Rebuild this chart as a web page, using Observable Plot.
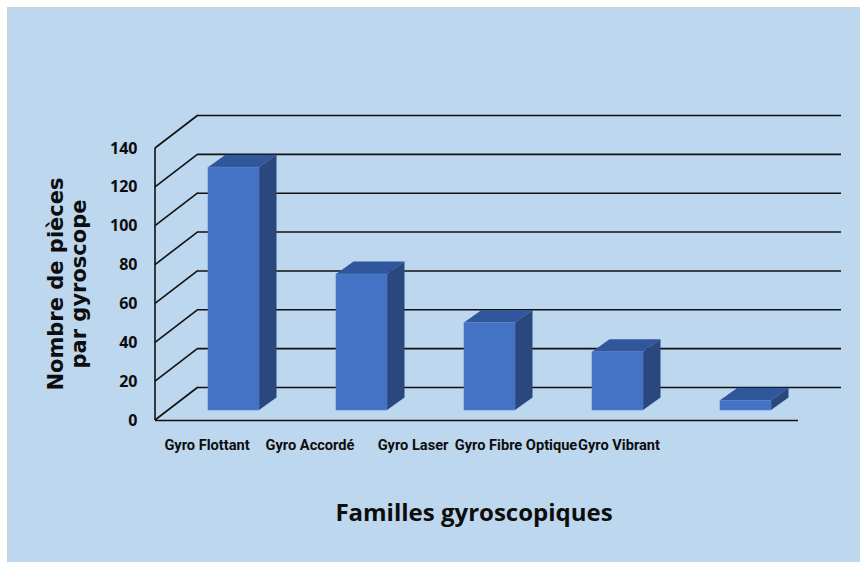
<!DOCTYPE html>
<html><head><meta charset="utf-8">
<script src="https://cdn.jsdelivr.net/npm/d3@7"></script>
<script src="https://cdn.jsdelivr.net/npm/@observablehq/plot@0.6"></script>
<style>
body{margin:0;background:#fff;width:860px;height:562px;overflow:hidden;position:relative;}
#bg{position:absolute;left:7px;top:7px;right:0;bottom:0;background:#BDD7EE;border-left:1px solid #d2d2d2;border-top:1px solid #d2d2d2;}
#chart,#xlabels{position:absolute;left:0;}
#chart{top:0;}
#xlabels{top:430px;}
#xtitle{position:absolute;left:274px;width:400px;top:497px;text-align:center;font:bold 24px/30px "Open Sans",sans-serif;color:#0d0d0d;}
#ytitle{position:absolute;left:-82px;top:261px;width:300px;height:46px;text-align:center;font:bold 21px/23px "DejaVu Sans",sans-serif;color:#0d0d0d;transform:rotate(-90deg);}
svg{overflow:visible;}
</style></head>
<body>
<div id="bg"></div>
<div id="chart"></div>
<div id="xlabels"></div>
<div id="xtitle">Familles gyroscopiques</div>
<div id="ytitle">Nombre de pièces<br>par gyroscope</div>
<script>
const categories = ["Gyro Flottant", "Gyro Accordé", "Gyro Laser", "Gyro Fibre Optique", "Gyro Vibrant"];
const values = [125, 70, 45, 30, 5];
const yTicks = [0, 20, 40, 60, 80, 100, 120, 140];

const data = categories.map((c, i) => ({cat: c, value: values[i]}));

const DEPTH = {dx: 43, dy: -33};      // full floor depth (front wall -> back wall)
const BAR_OFF = {dx: 13, dy: -10};    // bar front face position in depth
const BAR_D = {dx: 17.5, dy: -12.5};  // bar thickness in depth

function walls(index, scales, values, dims) {
  const g = d3.create("svg:g").attr("stroke", "#111").attr("stroke-width", 1.6).attr("fill", "none");
  const x0 = dims.marginLeft;
  for (const t of yTicks) {
    const y = scales.y(t);
    g.append("line").attr("x1", x0).attr("y1", y).attr("x2", x0 + DEPTH.dx).attr("y2", y + DEPTH.dy);
  }
  g.append("line").attr("x1", x0).attr("x2", x0)
    .attr("y1", scales.y(0)).attr("y2", scales.y(d3.max(yTicks)));
  return g.node();
}

function barFaces(index, scales, values, dims) {
  const g = d3.create("svg:g");
  const bw = scales.x.bandwidth();
  for (const d of data) {
    const xl = scales.x(d.cat) + BAR_OFF.dx, xr = xl + bw;
    const yt = scales.y(d.value) + BAR_OFF.dy, yb = scales.y(0) + BAR_OFF.dy;
    g.append("path")
      .attr("d", `M${xl},${yt}L${xr},${yt}L${xr + BAR_D.dx},${yt + BAR_D.dy}L${xl + BAR_D.dx},${yt + BAR_D.dy}Z`)
      .attr("fill", "#30569C");
    g.append("path")
      .attr("d", `M${xr},${yt}L${xr + BAR_D.dx},${yt + BAR_D.dy}L${xr + BAR_D.dx},${yb + BAR_D.dy}L${xr},${yb}Z`)
      .attr("fill", "#2A477E");
  }
  return g.node();
}

const chart = Plot.plot({
  width: 860,
  height: 562,
  marginLeft: 155,
  marginRight: 62,
  marginTop: 148,
  marginBottom: 142,
  style: {background: "transparent", fontFamily: "'Open Sans', sans-serif", fontSize: "16px", fontWeight: "bold", color: "#0d0d0d", overflow: "visible"},
  x: {type: "band", domain: categories, paddingInner: 0.6, paddingOuter: 0.3, axis: null},
  y: {domain: [0, 140], ticks: yTicks, tickSize: 0, tickPadding: 18, label: null},
  marks: [
    Plot.ruleY(yTicks, {y: d => d, dx: DEPTH.dx, dy: DEPTH.dy, stroke: "#111", strokeWidth: 1.6}),
    walls,
    Plot.ruleY([0], {stroke: "#111", strokeWidth: 1.6}),
    barFaces,
    Plot.barY(data, {x: "cat", y: "value", fill: "#4472C4", stroke: "#5580cc", strokeWidth: 0.6, dx: BAR_OFF.dx, dy: BAR_OFF.dy})
  ]
});
document.getElementById("chart").append(chart);

const xl = Plot.plot({
  width: 860,
  height: 30,
  marginTop: 0, marginBottom: 0,
  marginLeft: 154.5, marginRight: 190.5,
  style: {background: "transparent", fontFamily: "Roboto, 'Open Sans', sans-serif", fontWeight: "bold", color: "#0d0d0d", overflow: "visible"},
  x: {type: "band", domain: categories, padding: 0, axis: null},
  marks: [
    Plot.text(categories, {x: d => d, frameAnchor: "middle", fontSize: 14.6, fill: "#0d0d0d"})
  ]
});
document.getElementById("xlabels").append(xl);
</script>
</body></html>
